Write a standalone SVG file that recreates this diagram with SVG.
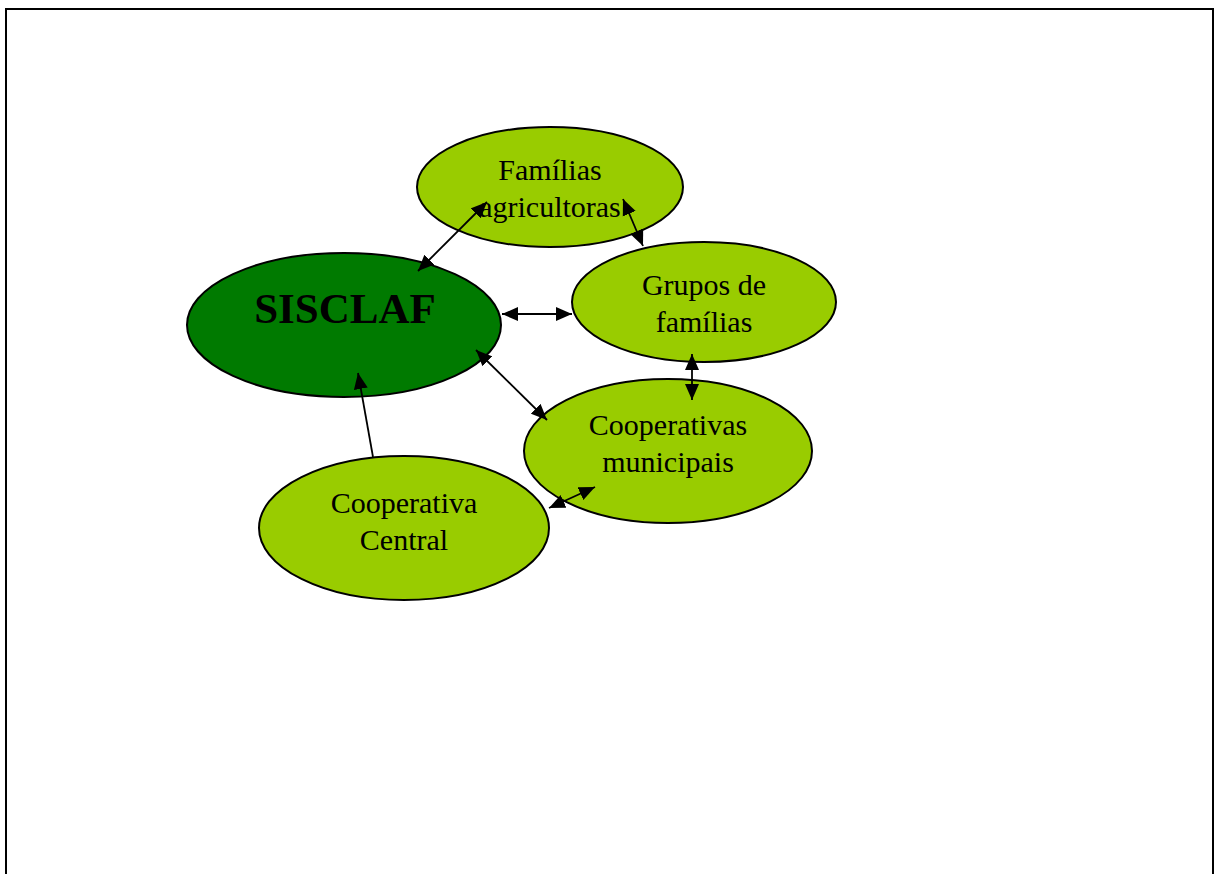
<svg xmlns="http://www.w3.org/2000/svg" width="1216" height="874" viewBox="0 0 1216 874">
<style>
.n{fill:#99cc00;stroke:#000;stroke-width:2}
.main{fill:#007a00;stroke:#000;stroke-width:2}
.t{font-family:"Liberation Serif","Times New Roman",serif;font-size:30px;fill:#000;text-anchor:middle}
.b{font-family:"Liberation Serif","Times New Roman",serif;font-size:43px;font-weight:bold;fill:#000;text-anchor:middle}
.c{stroke:#000;stroke-width:1.8;fill:none}
</style>
<defs>
<marker id="ah" markerUnits="userSpaceOnUse" markerWidth="17" markerHeight="15" refX="16" refY="7" orient="auto-start-reverse" viewBox="0 0 17 14">
<path d="M0,0 L16,7 L0,14 Z" fill="#000"/>
</marker>
</defs>
<rect width="1216" height="874" fill="#fff"/>
<path d="M6,874 L6,9 L1213,9 L1213,874" fill="none" stroke="#000" stroke-width="2"/>
<g id="familias">
<ellipse class="n" cx="550" cy="187" rx="133" ry="60"/>
<text class="t" x="550" y="180">Famílias</text>
<text class="t" x="550" y="217">agricultoras</text>
</g>
<g id="sisclaf">
<ellipse class="main" cx="344" cy="325" rx="157" ry="72"/>
<text class="b" x="345" y="323">SISCLAF</text>
</g>
<g id="grupos">
<ellipse class="n" cx="704" cy="302" rx="132" ry="60"/>
<text class="t" x="704" y="295">Grupos de</text>
<text class="t" x="704" y="332">famílias</text>
</g>
<g id="coopmun">
<ellipse class="n" cx="668" cy="451" rx="144" ry="72"/>
<text class="t" x="668" y="435">Cooperativas</text>
<text class="t" x="668" y="472">municipais</text>
</g>
<g id="coopcentral">
<ellipse class="n" cx="404" cy="528" rx="145" ry="72"/>
<text class="t" x="404" y="513">Cooperativa</text>
<text class="t" x="404" y="550">Central</text>
</g>
<g id="connectors">
<line class="c" x1="418" y1="271" x2="487" y2="202" marker-start="url(#ah)" marker-end="url(#ah)"/>
<line class="c" x1="623" y1="199" x2="643" y2="246" marker-start="url(#ah)" marker-end="url(#ah)"/>
<line class="c" x1="502" y1="314" x2="572" y2="314" marker-start="url(#ah)" marker-end="url(#ah)"/>
<line class="c" x1="476" y1="350" x2="547" y2="420" marker-start="url(#ah)" marker-end="url(#ah)"/>
<line class="c" x1="692" y1="354" x2="692" y2="400" marker-start="url(#ah)" marker-end="url(#ah)"/>
<line class="c" x1="373" y1="457" x2="358" y2="373" marker-end="url(#ah)"/>
<line class="c" x1="549" y1="508" x2="595" y2="487" marker-start="url(#ah)" marker-end="url(#ah)"/>
</g>
</svg>
